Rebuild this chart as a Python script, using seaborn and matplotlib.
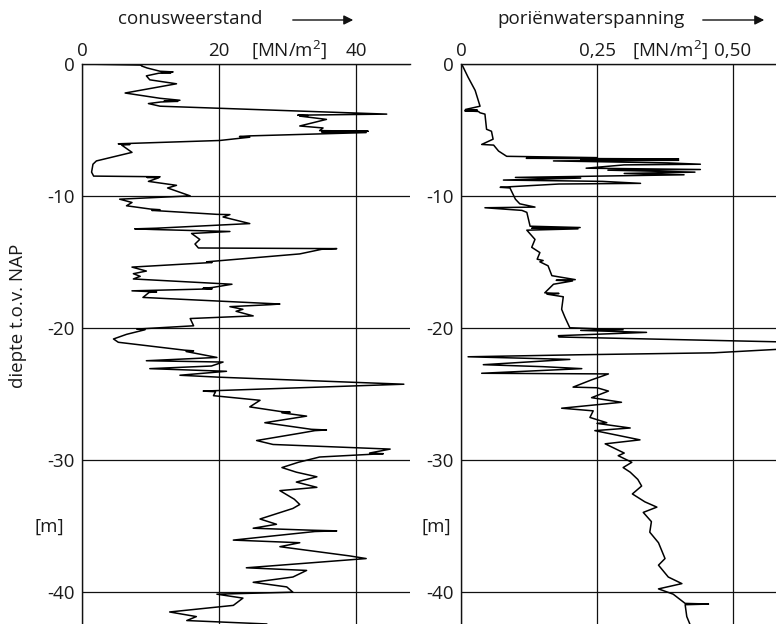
import matplotlib
matplotlib.use("Agg")
import matplotlib.pyplot as plt
import seaborn as sns
import pandas as pd

# Cone penetration test: cone resistance (MN/m2) versus depth (m w.r.t. NAP)
cone_depth = [
    0.00, -0.08, -0.15, -0.30, -0.55, -0.60, -0.63, -0.66, -0.70, -0.90,
    -1.20, -1.50, -2.20, -2.60, -2.75, -2.80, -2.83, -2.88, -3.00, -3.20,
    -3.80, -3.88, -3.92, -3.95, -4.20, -4.70, -4.85, -5.05, -5.10, -5.15,
    -5.20, -5.45, -5.50, -5.55, -5.80, -6.05, -6.10, -6.15, -6.70, -7.35,
    -7.60, -8.20, -8.50, -8.55, -8.60, -8.63, -8.90, -9.20, -9.40, -10.00,
    -10.25, -10.50, -10.75, -11.00, -11.05, -11.10, -11.40, -11.42, -11.60, -12.10,
    -12.45, -12.50, -12.55, -12.70, -12.85, -13.30, -13.65, -13.95, -14.00, -14.05,
    -14.40, -14.95, -15.00, -15.05, -15.40, -15.70, -15.90, -16.10, -16.30, -16.70,
    -16.95, -17.00, -17.05, -17.20, -17.28, -17.32, -17.70, -18.15, -18.20, -18.25,
    -18.40, -18.60, -18.75, -19.10, -19.30, -19.85, -20.05, -20.10, -20.15, -20.50,
    -20.85, -21.10, -21.70, -21.75, -21.80, -22.25, -22.50, -22.60, -22.90, -23.10,
    -23.30, -23.60, -23.75, -24.28, -24.80, -24.85, -25.15, -25.50, -26.00, -26.35,
    -26.40, -26.45, -26.70, -27.20, -27.70, -27.75, -27.80, -28.00, -28.55, -28.85,
    -29.20, -29.50, -29.55, -29.60, -29.80, -30.20, -30.60, -30.95, -31.30, -31.70,
    -32.10, -32.35, -33.00, -33.40, -33.70, -34.50, -34.90, -35.20, -35.35, -35.40,
    -35.45, -36.10, -36.30, -36.60, -37.30, -37.50, -38.20, -38.40, -38.90, -39.30,
    -39.65, -40.05, -40.20, -40.50, -41.05, -41.55, -41.90, -42.20, -42.46,
]
cone_q = [
    0.0, 8.7, 8.7, 9.5, 11.4, 13.3, 11.6, 13.0, 11.2, 9.4,
    9.9, 13.8, 6.3, 11.4, 14.3, 12.0, 14.0, 11.5, 9.7, 11.4,
    44.5, 31.5, 33.0, 31.8, 35.7, 31.8, 35.2, 34.7, 41.8, 35.0,
    41.5, 24.5, 23.0, 24.5, 20.1, 5.3, 7.0, 5.8, 7.3, 2.1,
    1.6, 1.4, 1.7, 11.4, 9.5, 11.2, 9.7, 13.8, 12.5, 15.8,
    5.5, 7.3, 6.5, 10.0, 11.4, 10.2, 19.7, 21.6, 20.6, 24.5,
    10.9, 7.7, 10.5, 21.6, 16.0, 17.2, 16.5, 17.0, 37.2, 35.0,
    31.8, 19.5, 18.2, 19.0, 7.3, 9.4, 7.5, 8.5, 7.5, 21.9,
    19.0, 17.7, 19.0, 7.3, 10.9, 9.8, 8.9, 27.0, 28.9, 27.5,
    21.6, 23.5, 22.5, 25.0, 15.8, 16.3, 9.5, 8.0, 9.2, 6.5,
    4.6, 5.3, 15.0, 16.3, 15.2, 19.7, 9.4, 20.6, 18.9, 9.9,
    21.1, 14.3, 20.1, 47.0, 17.7, 19.5, 19.2, 26.0, 24.5, 29.0,
    30.4, 29.2, 32.8, 26.7, 33.5, 35.7, 34.0, 31.8, 25.5, 27.9,
    45.0, 42.0, 44.0, 42.0, 34.7, 31.6, 29.2, 31.3, 34.3, 31.3,
    34.3, 28.9, 31.0, 31.8, 30.8, 26.0, 28.4, 25.0, 33.5, 37.2,
    34.0, 22.1, 31.8, 28.9, 39.1, 41.5, 24.0, 32.8, 30.8, 25.0,
    29.9, 30.8, 19.7, 23.5, 22.1, 12.8, 16.7, 15.3, 27.0,
]

# Pore water pressure (MN/m2) versus depth
pore_depth = [
    0.00, -0.15, -1.00, -2.00, -3.20, -3.45, -3.50, -3.55, -3.60, -3.70,
    -3.80, -4.95, -5.10, -5.70, -6.10, -6.15, -6.60, -7.00, -7.10, -7.15,
    -7.20, -7.25, -7.30, -7.35, -7.50, -7.60, -7.65, -7.90, -8.00, -8.05,
    -8.20, -8.30, -8.40, -8.60, -8.65, -8.80, -8.90, -9.05, -9.10, -9.35,
    -9.40, -10.25, -10.60, -10.85, -10.90, -11.10, -11.25, -12.30, -12.40, -12.45,
    -12.50, -12.60, -13.30, -13.90, -14.30, -14.80, -14.90, -15.00, -15.30, -16.05,
    -16.35, -16.40, -16.45, -16.70, -17.35, -17.40, -17.45, -17.65, -18.60, -19.20,
    -20.00, -20.15, -20.20, -20.35, -20.60, -20.70, -21.10, -21.55, -21.90, -22.05,
    -22.20, -22.40, -22.80, -22.95, -23.10, -23.45, -23.50, -23.95, -24.50, -24.55,
    -24.80, -25.30, -25.65, -26.10, -26.30, -26.80, -27.20, -27.25, -27.60, -27.80,
    -28.50, -28.80, -29.50, -29.70, -30.20, -30.60, -30.95, -31.50, -32.00, -32.60,
    -33.20, -33.60, -34.00, -34.70, -35.50, -36.30, -37.50, -38.00, -38.90, -39.40,
    -39.80, -40.20, -40.90, -40.95, -41.00, -41.90, -42.50,
]
pore_u = [
    0.000, 0.003, 0.013, 0.026, 0.035, 0.008, 0.030, 0.007, 0.032, 0.035,
    0.044, 0.047, 0.056, 0.059, 0.038, 0.060, 0.069, 0.084, 0.250, 0.120,
    0.400, 0.220, 0.400, 0.170, 0.380, 0.440, 0.300, 0.230, 0.440, 0.270,
    0.430, 0.300, 0.410, 0.100, 0.220, 0.078, 0.260, 0.330, 0.180, 0.072,
    0.090, 0.100, 0.108, 0.136, 0.044, 0.112, 0.121, 0.127, 0.219, 0.130,
    0.215, 0.121, 0.136, 0.130, 0.145, 0.140, 0.151, 0.145, 0.160, 0.167,
    0.210, 0.175, 0.205, 0.170, 0.154, 0.180, 0.158, 0.188, 0.185, 0.191,
    0.200, 0.298, 0.220, 0.341, 0.179, 0.180, 0.620, 0.620, 0.464, 0.213,
    0.013, 0.200, 0.041, 0.151, 0.222, 0.038, 0.271, 0.240, 0.206, 0.250,
    0.271, 0.240, 0.295, 0.185, 0.243, 0.237, 0.268, 0.250, 0.311, 0.246,
    0.329, 0.265, 0.300, 0.289, 0.314, 0.298, 0.311, 0.325, 0.332, 0.315,
    0.338, 0.360, 0.335, 0.350, 0.347, 0.363, 0.375, 0.363, 0.381, 0.406,
    0.363, 0.390, 0.412, 0.455, 0.412, 0.415, 0.421,
]

depth_ticks = [0, -10, -20, -30, -40]
depth_labels = ["0", "-10", "-20", "-30", "-40"]
cone_ticks = [0, 20, 40]
cone_labels = ["0", "20", "40"]
pore_ticks = [0, 0.25, 0.50]
pore_labels = ["0", "0,25", "0,50"]

FS = 13.5
INK = "#1a1a1a"

sns.set_style("white")
plt.rcParams["font.family"] = ["Open Sans", "DejaVu Sans"]
plt.rcParams["font.size"] = FS
plt.rcParams["mathtext.fontset"] = "custom"
plt.rcParams["mathtext.rm"] = "Open Sans"
plt.rcParams["mathtext.it"] = "Open Sans"

W, H = 776, 624
fig = plt.figure(figsize=(W / 100, H / 100), dpi=100)

top = 1 - 64 / H
ax1 = fig.add_axes([82 / W, 0.0, (410 - 82) / W, top])
ax2 = fig.add_axes([461 / W, 0.0, (W - 461) / W, top])

cone = pd.DataFrame({"q": cone_q, "depth": cone_depth})
pore = pd.DataFrame({"u": pore_u, "depth": pore_depth})

sns.lineplot(data=cone, x="q", y="depth", sort=False, estimator=None,
             color="black", lw=1.1, ax=ax1)
sns.lineplot(data=pore, x="u", y="depth", sort=False, estimator=None,
             color="black", lw=1.1, ax=ax2)

ymin = -(H - 63.5) / 13.2
for ax, xmax, ticks, labels in [
    (ax1, 47.9, cone_ticks, cone_labels),
    (ax2, 0.579, pore_ticks, pore_labels),
]:
    ax.set_xlim(0, xmax)
    ax.set_ylim(ymin, 0)
    ax.set_xticks(ticks)
    ax.set_xticklabels(labels)
    ax.set_yticks(depth_ticks)
    ax.set_yticklabels(depth_labels)
    ax.xaxis.tick_top()
    ax.tick_params(axis="both", length=0, labelsize=FS, colors=INK)
    ax.tick_params(axis="x", pad=3)
    ax.tick_params(axis="y", pad=5)
    ax.set_xlabel("")
    ax.set_ylabel("")
    for side in ("right", "bottom"):
        ax.spines[side].set_visible(False)
    for side in ("left", "top"):
        ax.spines[side].set_color("#111111")
        ax.spines[side].set_linewidth(1.0)
    ax.grid(True, color="#111111", lw=0.9)
    ax.set_axisbelow(True)

fig.text(49 / W, 1 - 527 / H, "[m]", ha="center", va="center", fontsize=FS, color=INK)
fig.text(436 / W, 1 - 527 / H, "[m]", ha="center", va="center", fontsize=FS, color=INK)

fig.text(289 / W, 1 - 50 / H, "[MN/m$^2$]", ha="center", va="center",
         fontsize=FS, color=INK)
fig.text(670 / W, 1 - 50 / H, "[MN/m$^2$]", ha="center", va="center",
         fontsize=FS, color=INK)

fig.text(18 / W, 1 - 316 / H, "diepte t.o.v. NAP", rotation=90,
         ha="center", va="center", fontsize=FS, color=INK)

fig.text(118 / W, 1 - 24 / H, "conusweerstand", ha="left", va="baseline",
         fontsize=FS, color=INK)
fig.text(497 / W, 1 - 24 / H, "poriënwaterspanning", ha="left", va="baseline",
         fontsize=FS, color=INK)

for x0, x1 in [(290, 356), (700, 767)]:
    fig.add_artist(matplotlib.patches.FancyArrowPatch(
        (x0 / W, 1 - 20 / H), (x1 / W, 1 - 20 / H), transform=fig.transFigure,
        arrowstyle="-|>", mutation_scale=14, lw=1.0, color="#111111"))

fig.savefig("out.png", dpi=100)
